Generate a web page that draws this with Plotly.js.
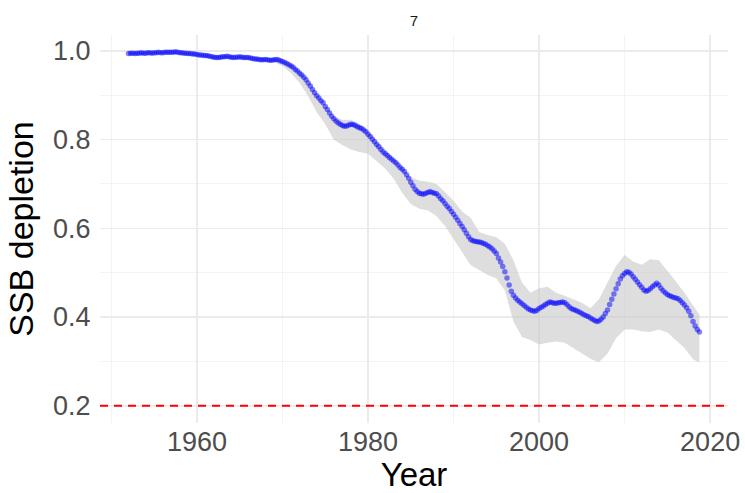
<!DOCTYPE html>
<html>
<head>
<meta charset="utf-8">
<script src="https://cdn.plot.ly/plotly-3.0.1.min.js"></script>
<style>html,body{margin:0;padding:0;background:#fff;}#chart{width:745px;height:493px;}</style>
</head>
<body>
<div id="chart"></div>
<script>
// Quarterly SSB depletion estimates, 1952.00 .. 2018.75 (4 values per year)
const startYear = 1952;
const depletion = [
  0.994,0.995,0.995,0.994, // 1952
  0.995,0.995,0.996,0.995, // 1953
  0.995,0.996,0.996,0.995, // 1954
  0.996,0.996,0.997,0.996, // 1955
  0.996,0.997,0.997,0.997, // 1956
  0.997,0.997,0.998,0.997, // 1957
  0.996,0.996,0.995,0.995, // 1958
  0.994,0.994,0.993,0.993, // 1959
  0.992,0.991,0.991,0.990, // 1960
  0.990,0.989,0.988,0.987, // 1961
  0.986,0.985,0.985,0.986, // 1962
  0.987,0.987,0.988,0.987, // 1963
  0.986,0.985,0.986,0.986, // 1964
  0.987,0.986,0.985,0.985, // 1965
  0.985,0.984,0.983,0.982, // 1966
  0.982,0.981,0.980,0.980, // 1967
  0.981,0.980,0.979,0.979, // 1968
  0.980,0.981,0.980,0.978, // 1969
  0.976,0.974,0.972,0.969, // 1970
  0.966,0.963,0.958,0.955, // 1971
  0.950,0.946,0.941,0.935, // 1972
  0.928,0.921,0.913,0.906, // 1973
  0.899,0.894,0.888,0.883, // 1974
  0.875,0.868,0.860,0.853, // 1975
  0.847,0.842,0.838,0.835, // 1976
  0.832,0.830,0.831,0.833, // 1977
  0.835,0.834,0.832,0.829, // 1978
  0.827,0.825,0.822,0.818, // 1979
  0.812,0.807,0.801,0.795, // 1980
  0.789,0.784,0.778,0.772, // 1981
  0.768,0.764,0.760,0.756, // 1982
  0.752,0.748,0.743,0.737, // 1983
  0.733,0.728,0.721,0.713, // 1984
  0.704,0.696,0.688,0.683, // 1985
  0.679,0.678,0.677,0.679, // 1986
  0.681,0.683,0.681,0.679, // 1987
  0.678,0.673,0.667,0.662, // 1988
  0.656,0.650,0.645,0.638, // 1989
  0.632,0.625,0.618,0.611, // 1990
  0.604,0.597,0.589,0.581, // 1991
  0.575,0.572,0.571,0.570, // 1992
  0.569,0.568,0.566,0.564, // 1993
  0.561,0.558,0.554,0.549, // 1994
  0.543,0.533,0.524,0.514, // 1995
  0.502,0.488,0.472,0.458, // 1996
  0.449,0.443,0.438,0.434, // 1997
  0.430,0.426,0.422,0.418, // 1998
  0.416,0.414,0.413,0.415, // 1999
  0.419,0.422,0.425,0.428, // 2000
  0.431,0.434,0.433,0.431, // 2001
  0.431,0.432,0.433,0.434, // 2002
  0.432,0.428,0.423,0.419, // 2003
  0.417,0.415,0.413,0.411, // 2004
  0.408,0.405,0.403,0.401, // 2005
  0.398,0.395,0.392,0.390, // 2006
  0.391,0.395,0.400,0.408, // 2007
  0.416,0.428,0.440,0.452, // 2008
  0.464,0.475,0.486,0.493, // 2009
  0.498,0.502,0.501,0.497, // 2010
  0.491,0.485,0.479,0.473, // 2011
  0.467,0.461,0.458,0.460, // 2012
  0.464,0.468,0.472,0.476, // 2013
  0.472,0.465,0.459,0.455, // 2014
  0.451,0.448,0.446,0.444, // 2015
  0.443,0.441,0.437,0.432, // 2016
  0.427,0.421,0.413,0.403, // 2017
  0.390,0.380,0.372,0.366  // 2018
];

// Uncertainty band (read at yearly resolution)
const bandYears = [1952,1953,1954,1955,1956,1957,1958,1959,1960,1961,1962,1963,1964,1965,1966,1967,1968,1969,
  1970,1971,1972,1973,1974,1975,1976,1977,1978,1979,1980,1981,1982,1983,1984,1985,1986,1987,1988,1989,
  1990,1991,1992,1993,1994,1995,1996,1997,1998,1999,2000,2001,2002,2003,2004,2005,2006,2007,2008,2009,
  2010,2011,2012,2013,2014,2015,2016,2017,2018,2018.75];
const bandUpper = [0.997,0.998,0.998,0.999,0.999,0.999,0.998,0.996,0.994,0.992,0.989,0.990,0.989,0.989,0.987,0.984,0.984,0.983,
  0.979,0.970,0.955,0.935,0.905,0.880,0.852,0.845,0.845,0.836,0.820,0.800,0.778,0.760,0.738,0.715,0.708,0.705,0.700,0.682,
  0.662,0.638,0.624,0.592,0.585,0.580,0.565,0.528,0.478,0.455,0.465,0.468,0.455,0.448,0.440,0.432,0.420,0.440,0.478,0.515,
  0.540,0.525,0.518,0.530,0.528,0.505,0.480,0.455,0.428,0.405];
const bandLower = [0.991,0.992,0.992,0.993,0.993,0.994,0.992,0.990,0.988,0.986,0.982,0.983,0.982,0.982,0.980,0.977,0.976,0.975,
  0.966,0.950,0.928,0.898,0.862,0.835,0.800,0.788,0.778,0.772,0.768,0.752,0.735,0.712,0.680,0.655,0.644,0.640,0.628,0.605,
  0.575,0.548,0.517,0.506,0.495,0.487,0.460,0.390,0.355,0.348,0.338,0.342,0.345,0.342,0.330,0.318,0.306,0.298,0.318,0.352,
  0.372,0.372,0.368,0.366,0.372,0.365,0.348,0.330,0.305,0.297];

const referenceLevel = 0.2;
const chartTitle = '7';
const xTitle = 'Year';
const yTitle = 'SSB depletion';

const quarterYears = depletion.map((_, i) => startYear + i * 0.25);

const FONT = '"Liberation Sans", Arial, Helvetica, sans-serif';

const traces = [
  {x: bandYears, y: bandLower, type: 'scatter', mode: 'lines', line: {width: 0, color: 'rgba(0,0,0,0)'},
   hoverinfo: 'skip', showlegend: false},
  {x: bandYears, y: bandUpper, type: 'scatter', mode: 'lines', line: {width: 0, color: 'rgba(0,0,0,0)'},
   fill: 'tonexty', fillcolor: 'rgba(200,200,200,0.6)', hoverinfo: 'skip', showlegend: false},
  {x: quarterYears, y: depletion, type: 'scatter', mode: 'markers',
   marker: {size: 5.5, color: 'rgba(0,0,255,0.5)', line: {width: 0}}, showlegend: false}
];

const layout = {
  width: 745, height: 493,
  margin: {l: 100, r: 17, t: 35, b: 70},
  paper_bgcolor: '#ffffff', plot_bgcolor: '#ffffff',
  font: {family: FONT},
  title: {text: chartTitle, x: 0.5, xref: 'paper', xanchor: 'center', y: 0.958, yref: 'container', yanchor: 'middle',
          font: {size: 15, color: '#1a1a1a', family: FONT}},
  xaxis: {
    range: [1948.66, 2022.09], tick0: 1960, dtick: 20,
    showgrid: true, gridcolor: '#EBEBEB', gridwidth: 1.6, zeroline: false, showline: false,
    ticks: '',
    tickfont: {size: 27, color: '#4D4D4D', family: FONT},
    minor: {dtick: 10, showgrid: true, gridcolor: '#F2F2F2', gridwidth: 0.9},
    title: {text: xTitle, font: {size: 33, color: '#000000', family: FONT}, standoff: 10},
    automargin: false, fixedrange: true
  },
  yaxis: {
    range: [0.161, 1.036], tick0: 0.2, dtick: 0.2, tickformat: '.1f',
    showgrid: true, gridcolor: '#EBEBEB', gridwidth: 1.6, zeroline: false, showline: false,
    ticks: 'outside', ticklen: 3, tickcolor: 'rgba(0,0,0,0)',
    tickfont: {size: 27, color: '#4D4D4D', family: FONT},
    minor: {dtick: 0.1, showgrid: true, gridcolor: '#F2F2F2', gridwidth: 0.9},
    title: {text: yTitle, font: {size: 34, color: '#000000', family: FONT}, standoff: 9},
    automargin: false, fixedrange: true
  },
  shapes: [
    {type: 'line', xref: 'paper', x0: 0, x1: 1, yref: 'y', y0: referenceLevel, y1: referenceLevel,
     line: {color: '#FF0000', width: 2, dash: '8px,6px'}}
  ]
};

Plotly.newPlot('chart', traces, layout, {displayModeBar: false, staticPlot: true});
</script>
</body>
</html>
